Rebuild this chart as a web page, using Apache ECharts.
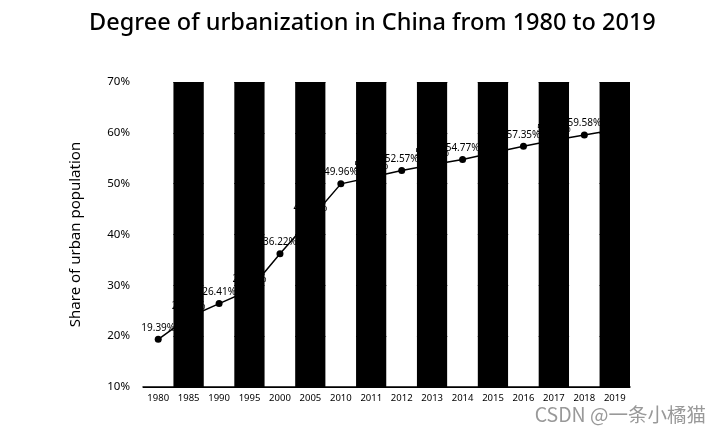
<!DOCTYPE html>
<html><head><meta charset="utf-8">
<script src="https://cdn.jsdelivr.net/npm/echarts@6/dist/echarts.min.js"></script>
<style>html,body{margin:0;padding:0;background:#fff}#c{width:720px;height:430px}</style>
</head><body><div id="c"></div>
<script>
const years = ['1980','1985','1990','1995','2000','2005','2010','2011','2012','2013','2014','2015','2016','2017','2018','2019'];
const urbanShare = [19.39, 23.71, 26.41, 29.04, 36.22, 42.99, 49.96, 51.27, 52.57, 53.73, 54.77, 56.10, 57.35, 58.52, 59.58, 60.60];
const yTicks = [10, 20, 30, 40, 50, 60, 70];

const chart = echarts.init(document.getElementById('c'));
chart.setOption({
  backgroundColor: '#fff',
  animation: false,
  title: {
    text: 'Degree of urbanization in China from 1980 to 2019',
    left: 84, top: 6,
    textStyle: { fontFamily: 'Noto Sans', fontSize: 23.5, fontWeight: 500, color: '#000' }
  },
  grid: { left: 143, right: 90, top: 82, bottom: 43 },
  xAxis: {
    type: 'category', data: years, boundaryGap: true,
    axisLine: { show: true, lineStyle: { color: '#000', width: 1.5 } },
    axisTick: { show: false },
    axisLabel: { color: '#000', fontSize: 9.5, fontFamily: 'Noto Sans', margin: 6, interval: 0 },
    splitArea: { show: true, interval: 0, areaStyle: { color: ['#fff', '#000'] } },
    splitLine: { show: false }
  },
  yAxis: {
    type: 'value', min: yTicks[0], max: yTicks[yTicks.length - 1], interval: 10,
    name: 'Share of urban population', nameLocation: 'middle', nameGap: 60,
    nameTextStyle: { color: '#000', fontSize: 15, fontFamily: 'Noto Sans' },
    axisLine: { show: false }, axisTick: { show: false },
    axisLabel: { color: '#000', fontSize: 11.5, fontFamily: 'Noto Sans', margin: 13, formatter: v => v + '%' },
    splitLine: { show: true, lineStyle: { color: '#000', width: 1.2 } }
  },
  series: [{
    type: 'line', data: urbanShare,
    symbol: 'circle', symbolSize: 7,
    itemStyle: { color: '#000' },
    lineStyle: { color: '#000', width: 1.5 },
    label: { show: true, position: 'top', distance: 3, color: '#000', fontSize: 10, fontFamily: 'Noto Sans', formatter: p => p.value + '%' },
    z: 3
  }],
  graphic: [{
    type: 'text', right: 14, bottom: 6,
    style: { text: 'CSDN @一条小橘猫', fontSize: 19.5, fontFamily: 'Noto Sans CJK SC', fill: '#999' }
  }]
});
</script></body></html>
